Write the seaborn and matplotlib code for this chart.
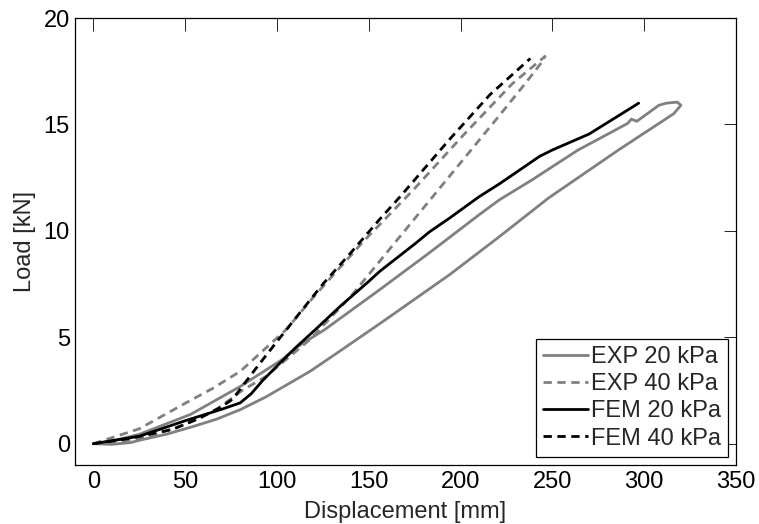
import numpy as np
import pandas as pd
import matplotlib
matplotlib.use("Agg")
import matplotlib.pyplot as plt
import seaborn as sns

# -----------------------------------------------------
# data (displacement mm, load kN)
# -----------------------------------------------------
# EXP 20 kPa: loading branch then unloading branch (closed loop)
exp20_load_x = [0, 10, 25, 53, 80, 103, 111, 126, 156, 183, 210, 221, 239, 264, 277, 291, 293, 296, 308, 312, 318, 320]
exp20_load_y = [0, 0.12, 0.44, 1.38, 2.69, 3.96, 4.55, 5.36, 7.24, 8.97, 10.75, 11.45, 12.4, 13.8, 14.4, 15.05, 15.25, 15.15, 15.9, 16.0, 16.05, 15.9]
exp20_unload_x = [316, 286, 248, 221, 194, 157, 130, 118, 105, 94, 80, 67, 54, 40, 27, 20, 10, 0]
exp20_unload_y = [15.5, 13.8, 11.55, 9.72, 7.94, 5.7, 4.1, 3.4, 2.75, 2.2, 1.6, 1.15, 0.8, 0.45, 0.2, 0.05, -0.03, 0]

# EXP 40 kPa: loading branch then unloading branch
exp40_load_x = [0, 25, 50, 65, 80, 94, 105, 120, 147, 174, 201, 228, 246]
exp40_load_y = [0, 0.7, 1.9, 2.6, 3.4, 4.5, 5.36, 6.9, 9.5, 11.9, 14.45, 16.9, 18.2]
exp40_unload_x = [244, 235, 220, 200, 180, 160, 140, 118, 107, 94, 81, 67, 50, 31, 15, 0]
exp40_unload_y = [17.9, 16.9, 15.3, 13.2, 11.1, 9.0, 6.9, 4.9, 4.1, 3.16, 2.5, 1.6, 0.9, 0.35, 0.1, 0]

# FEM 20 kPa
fem20_x = [0, 25, 50, 70, 80, 86, 92, 100, 110, 122, 135, 149, 156, 176, 183, 194, 210, 221, 243, 250, 270, 297]
fem20_y = [0, 0.35, 1.08, 1.62, 1.92, 2.35, 2.95, 3.65, 4.5, 5.45, 6.5, 7.55, 8.1, 9.45, 9.95, 10.6, 11.6, 12.2, 13.5, 13.8, 14.55, 16.0]

# FEM 40 kPa
fem40_x = [0, 20, 43, 58, 70, 76, 82, 90, 100, 112, 125, 140, 156, 167, 183, 194, 216, 238]
fem40_y = [0, 0.25, 0.67, 1.2, 1.75, 2.1, 2.8, 3.7, 4.8, 6.1, 7.5, 8.95, 10.55, 11.6, 13.2, 14.3, 16.4, 18.1]

labels = ['EXP 20 kPa', 'EXP 40 kPa', 'FEM 20 kPa', 'FEM 40 kPa']
x_ticks = [0, 50, 100, 150, 200, 250, 300, 350]
y_ticks = [0, 5, 10, 15, 20]

# -----------------------------------------------------
# style
# -----------------------------------------------------
sns.set_style('white')
plt.rcParams['font.family'] = ['Liberation Sans', 'DejaVu Sans']
plt.rcParams['axes.unicode_minus'] = False
FS = 17

fig = plt.figure(figsize=(7.59, 5.24), dpi=100)
ax = fig.add_axes([0.0988, 0.1126, 0.8709, 0.853])

GRAY = '0.5'
DASH = (0, (3, 2))

series = [
    (exp20_load_x + exp20_unload_x, exp20_load_y + exp20_unload_y, GRAY, '-'),
    (exp40_load_x + exp40_unload_x, exp40_load_y + exp40_unload_y, GRAY, DASH),
    (fem20_x, fem20_y, 'black', '-'),
    (fem40_x, fem40_y, 'black', DASH),
]

for (xs, ys, col, ls), lab in zip(series, labels):
    sns.lineplot(x=xs, y=ys, sort=False, estimator=None, color=col,
                 linestyle=ls, linewidth=2, label=lab, ax=ax)

ax.set_xlim(-10, 350)
ax.set_ylim(-1, 20)
ax.set_xticks(x_ticks)
ax.set_yticks(y_ticks)
ax.tick_params(direction='in', length=9, width=0.6, top=True, right=True,
               labelsize=FS, colors='black')
ax.tick_params(axis='x', pad=4.6)
ax.tick_params(axis='y', pad=3.6)
for s in ax.spines.values():
    s.set_color('black')
    s.set_linewidth(0.9)

ax.set_xlabel('Displacement [mm]', fontsize=FS, labelpad=5.5)
ax.set_ylabel('Load [kN]', fontsize=FS, labelpad=5.5)

leg = ax.legend(loc='lower right', fontsize=FS, frameon=True, fancybox=False,
                edgecolor='black', framealpha=1, handlelength=1.9,
                handletextpad=0.1, labelspacing=0.22, borderpad=0.3,
                borderaxespad=0.35)
leg.get_frame().set_linewidth(0.9)

fig.savefig('out.png', dpi=100)
